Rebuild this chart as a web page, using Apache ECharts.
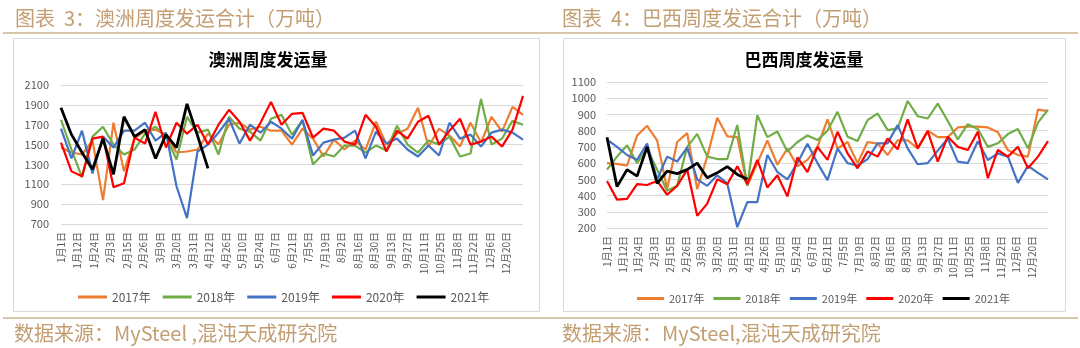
<!DOCTYPE html>
<html><head><meta charset="utf-8">
<script src="https://cdn.jsdelivr.net/npm/echarts@6/dist/echarts.min.js"></script>
<style>html,body{margin:0;padding:0;background:#fff}#c{width:1080px;height:348px}</style>
</head><body><div id="c"></div>
<script>
const weekLabels = ['1月1日','1月12日','1月24日','2月3日','2月15日','2月26日','3月9日','3月20日','3月31日','4月12日','4月26日','5月10日','5月24日','6月7日','6月21日','7月5日','7月19日','8月2日','8月16日','8月30日','9月13日','9月27日','10月11日','10月25日','11月8日','11月22日','12月6日','12月20日'];
const yearNames = ['2017年','2018年','2019年','2020年','2021年'];

// 澳洲周度发运量 (万吨)
const aus2017 = [1470,1420,1400,1540,940,1720,1230,1560,1640,1650,1600,1420,1430,1450,1610,1500,1700,1720,1650,1680,1640,1640,1500,1660,1560,1380,1550,1450,1540,1450,1730,1500,1610,1660,1870,1480,1660,1590,1480,1720,1520,1780,1630,1880,1800];
const aus2018 = [1750,1450,1170,1580,1680,1500,1400,1450,1610,1680,1580,1350,1780,1620,1650,1400,1780,1660,1630,1540,1760,1800,1600,1740,1300,1410,1380,1490,1490,1420,1490,1440,1690,1500,1420,1540,1500,1580,1380,1410,1960,1500,1560,1740,1700];
const aus2019 = [1660,1360,1640,1210,1580,1470,1640,1640,1720,1540,1620,1080,760,1430,1500,1620,1760,1510,1700,1620,1730,1660,1560,1750,1390,1520,1550,1570,1640,1360,1630,1510,1560,1450,1380,1490,1390,1720,1560,1600,1480,1620,1650,1620,1550];
const aus2020 = [1520,1230,1180,1560,1580,1070,1110,1570,1510,1830,1470,1720,1610,1700,1500,1700,1850,1730,1540,1720,1930,1700,1810,1820,1570,1660,1640,1530,1500,1800,1680,1430,1640,1560,1730,1790,1500,1640,1760,1500,1530,1580,1480,1650,1990];
const aus2021 = [1870,1600,1420,1250,1560,1200,1780,1580,1650,1360,1600,1470,1910,1590,1260];

// 巴西周度发运量 (万吨)
const bra2017 = [600,595,585,770,830,740,440,730,785,440,640,880,765,760,460,600,740,590,690,580,620,700,870,690,730,600,730,720,650,740,740,690,800,760,760,820,825,825,820,790,680,650,640,930,920];
const bra2018 = [560,640,710,600,690,560,430,460,700,780,640,625,625,835,460,895,760,795,670,730,770,742,800,916,763,736,865,906,803,814,983,889,875,967,860,746,840,810,700,722,779,810,691,850,930];
const bra2019 = [745,700,650,620,720,500,640,610,695,500,460,525,475,205,360,360,650,545,500,600,720,600,495,690,600,585,625,722,722,834,691,593,600,677,752,609,600,735,619,660,640,478,583,540,500];
const bra2020 = [490,375,380,470,465,490,405,460,560,275,350,500,470,580,470,620,450,525,395,635,545,700,620,793,660,568,671,640,752,685,869,691,797,609,763,700,681,793,507,681,640,701,568,640,736];
const bra2021 = [760,455,560,520,700,475,550,535,560,600,510,540,578,530,500];

const colors = ['#ED7D31','#70AD47','#4472C4','#FF0000','#000000'];
const FONT = "'Noto Sans CJK SC', 'Noto Sans', sans-serif";
const TAN = '#C29E72';
const RULE = '#CDB58F';
const GRAY = '#595959';

const pointCats = aus2017.map((_, i) => String(i));
const labelCats = weekLabels.concat(['']);

const panels = [
  {grid:{left:61, top:85, width:462, height:139}, min:700, max:2100, interval:200, data:[aus2017,aus2018,aus2019,aus2020,aus2021], yMargin:12},
  {grid:{left:607, top:82, width:441, height:146}, min:200, max:1100, interval:100, data:[bra2017,bra2018,bra2019,bra2020,bra2021], yMargin:11}
];

const grid = [], xAxis = [], yAxis = [], series = [];
panels.forEach((p, g) => {
  grid.push(p.grid);
  xAxis.push({gridIndex:g, type:'category', boundaryGap:false, data:pointCats, show:false});
  xAxis.push({gridIndex:g, type:'category', boundaryGap:false, position:'bottom', data:labelCats,
    axisLine:{show:false}, axisTick:{show:false}, splitLine:{show:false},
    axisLabel:{rotate:90, interval:0, fontSize:10, color:GRAY, margin:8, fontFamily:FONT}});
  yAxis.push({gridIndex:g, type:'value', min:p.min, max:p.max, interval:p.interval,
    axisLine:{show:false}, axisTick:{show:false},
    axisLabel:{fontSize:11, color:GRAY, margin:p.yMargin, fontFamily:FONT, formatter:(v) => String(v)},
    splitLine:{lineStyle:{color:'#D9D9D9', width:1}}});
  p.data.forEach((arr, k) => {
    series.push({type:'line', name:yearNames[k], xAxisIndex:2*g, yAxisIndex:g, data:arr,
      symbol:'none', animation:false,
      lineStyle:{width: k === 4 ? 2.8 : 2.2, color:colors[k]}, itemStyle:{color:colors[k]}});
  });
});

const option = {
  animation:false,
  textStyle:{fontFamily:FONT},
  grid, xAxis, yAxis, series,
  legend:[
    {left:73, top:286, itemWidth:29, itemHeight:3, itemGap:12, icon:'rect', data:yearNames,
     textStyle:{fontSize:12, color:GRAY, fontFamily:FONT}},
    {left:632, top:288, itemWidth:27, itemHeight:3, itemGap:9, icon:'rect', data:yearNames,
     textStyle:{fontSize:11, color:GRAY, fontFamily:FONT}}
  ],
  graphic:{elements:[
    {type:'rect', shape:{x:13.5, y:38.5, width:526, height:273}, style:{fill:'none', stroke:'#D9D9D9', lineWidth:1}, silent:true},
    {type:'rect', shape:{x:563.5, y:38.5, width:502, height:273}, style:{fill:'none', stroke:'#D9D9D9', lineWidth:1}, silent:true},
    {type:'line', shape:{x1:3, y1:33, x2:1078, y2:33}, style:{stroke:RULE, lineWidth:1.5}, silent:true},
    {type:'line', shape:{x1:3, y1:318, x2:1078, y2:318}, style:{stroke:RULE, lineWidth:1.5}, silent:true},
    {type:'text', x:15, y:18, style:{text:'图表  3：澳洲周度发运合计（万吨）', fill:TAN, fontSize:20, fontFamily:FONT, verticalAlign:'middle'}},
    {type:'text', x:562, y:18, style:{text:'图表  4：巴西周度发运合计（万吨）', fill:TAN, fontSize:20, fontFamily:FONT, verticalAlign:'middle'}},
    {type:'text', x:268, y:60, style:{text:'澳洲周度发运量', fill:'#000', fontSize:17, fontWeight:'bold', fontFamily:FONT, align:'center', verticalAlign:'middle'}},
    {type:'text', x:804, y:60, style:{text:'巴西周度发运量', fill:'#000', fontSize:17, fontWeight:'bold', fontFamily:FONT, align:'center', verticalAlign:'middle'}},
    {type:'text', x:14, y:333, style:{text:'数据来源：MySteel ,混沌天成研究院', fill:TAN, fontSize:20, fontFamily:FONT, verticalAlign:'middle'}},
    {type:'text', x:562, y:333, style:{text:'数据来源：MySteel,混沌天成研究院', fill:TAN, fontSize:20, fontFamily:FONT, verticalAlign:'middle'}}
  ]}
};

const chart = echarts.init(document.getElementById('c'), null, {renderer:'canvas', width:1080, height:348});
chart.setOption(option);
</script>
</body></html>
